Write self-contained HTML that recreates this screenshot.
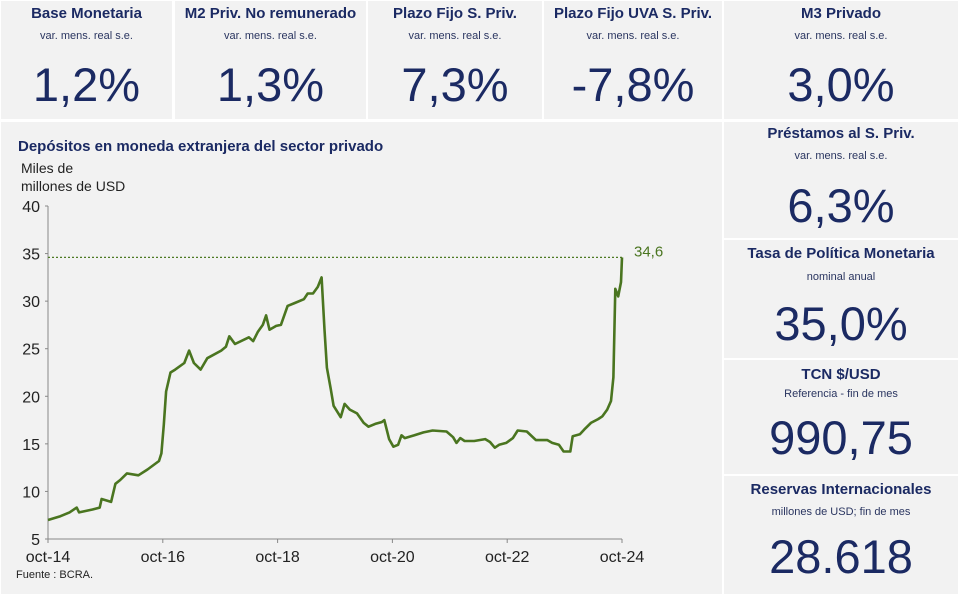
<!DOCTYPE html>
<html><head><meta charset="utf-8">
<style>
body{margin:0;width:960px;height:594px;background:#fff;position:relative;overflow:hidden;font-family:"Liberation Sans",sans-serif;color:#1b2a63}
.p{position:absolute;background:#f2f2f2}
.t{position:absolute;left:0;right:0;text-align:center;font-weight:bold;font-size:15px}
.s{position:absolute;left:0;right:0;text-align:center;font-size:11px;color:#2a3560}
.n{position:absolute;left:0;right:0;text-align:center;font-size:47px;line-height:47px}
</style></head><body>
<div class="p" style="left:1px;top:1px;width:171px;height:118px"><div class="t" style="top:4px">Base Monetaria</div><div class="s" style="top:29px">var. mens. real s.e.</div><div class="n" style="top:60px">1,2%</div></div>
<div class="p" style="left:175px;top:1px;width:191px;height:118px"><div class="t" style="top:4px">M2 Priv. No remunerado</div><div class="s" style="top:29px">var. mens. real s.e.</div><div class="n" style="top:60px">1,3%</div></div>
<div class="p" style="left:368px;top:1px;width:174px;height:118px"><div class="t" style="top:4px">Plazo Fijo S. Priv.</div><div class="s" style="top:29px">var. mens. real s.e.</div><div class="n" style="top:60px">7,3%</div></div>
<div class="p" style="left:544px;top:1px;width:178px;height:118px"><div class="t" style="top:4px">Plazo Fijo UVA S. Priv.</div><div class="s" style="top:29px">var. mens. real s.e.</div><div class="n" style="top:60px">-7,8%</div></div>
<div class="p" style="left:724px;top:1px;width:234px;height:118px"><div class="t" style="top:4px">M3 Privado</div><div class="s" style="top:29px">var. mens. real s.e.</div><div class="n" style="top:60px">3,0%</div></div>
<div class="p" style="left:724px;top:122px;width:234px;height:116px"><div class="t" style="top:3px">Préstamos al S. Priv.</div><div class="s" style="top:28px">var. mens. real s.e.</div><div class="n" style="top:60px">6,3%</div></div>
<div class="p" style="left:724px;top:240px;width:234px;height:118px"><div class="t" style="top:5px">Tasa de Política Monetaria</div><div class="s" style="top:31px">nominal anual</div><div class="n" style="top:60px">35,0%</div></div>
<div class="p" style="left:724px;top:360px;width:234px;height:114px"><div class="t" style="top:6px">TCN $/USD</div><div class="s" style="top:28px">Referencia - fin de mes</div><div class="n" style="top:54px">990,75</div></div>
<div class="p" style="left:724px;top:476px;width:234px;height:118px"><div class="t" style="top:5px">Reservas Internacionales</div><div class="s" style="top:30px">millones de USD; fin de mes</div><div class="n" style="top:57px">28.618</div></div>
<div class="p" style="left:1px;top:122px;width:721px;height:472px"></div>
<svg id="c" width="960" height="594" style="position:absolute;left:0;top:0"></svg>
<script>
const months=[0,2.6,4.5,6,6.5,9.3,10.8,11.2,13.2,14.1,15.1,16.5,18.9,20.8,23.2,23.7,24.2,24.7,25.6,26.6,28.5,29.5,30.5,31.9,33.3,36.2,37.2,37.9,39.1,42,42.9,43.9,44.9,45.6,46.3,47.7,48.7,50.1,51.6,53.5,54.3,55.4,56.4,57.2,57.8,58.3,59.1,59.7,61.2,62,63.1,64.6,66,67,68.4,69.8,70.3,71.3,72.2,73.2,73.9,74.6,76.6,78.5,80.4,83.3,84.7,85.4,86.2,87.1,89.1,91.4,92.4,93.4,94.3,95.8,97.2,98.2,100.1,102,104.4,105.4,106.8,107.8,109.2,109.7,111.2,112.1,113.5,115,115.9,116.9,117.7,118.2,118.6,119.2,119.8,120];
const values=[7.0,7.4,7.8,8.3,7.8,8.1,8.3,9.2,8.9,10.8,11.2,11.9,11.7,12.3,13.2,14,17,20.5,22.5,22.8,23.5,24.8,23.5,22.8,24,24.8,25.2,26.3,25.5,26.2,25.8,26.8,27.5,28.5,27,27.4,27.5,29.5,29.8,30.2,30.8,30.8,31.5,32.5,27,23,20.8,19,17.8,19.2,18.6,18.2,17.2,16.8,17.1,17.3,17.5,15.5,14.7,14.9,15.9,15.6,15.9,16.2,16.4,16.3,15.7,15.1,15.6,15.3,15.3,15.5,15.2,14.6,14.9,15.1,15.6,16.4,16.3,15.4,15.4,15.1,14.9,14.2,14.2,15.8,16.0,16.5,17.2,17.6,17.9,18.6,19.5,22,31.3,30.5,32,34.6];
const yTicks=[5,10,15,20,25,30,35,40];
const xTickMonths=[0,24,48,72,96,120];
const xTickLabels=["oct-14","oct-16","oct-18","oct-20","oct-22","oct-24"];
const lastValue=34.6;
const X0=48,X1=622,Y0=539,Y1=206;
const sx=m=>X0+(m-120*0)/120*(X1-X0);
const sy=v=>Y0-(v-5)/35*(Y0-Y1);
const svg=document.getElementById('c');const NS='http://www.w3.org/2000/svg';
function mk(t,a,txt){const e=document.createElementNS(NS,t);for(const k in a)e.setAttribute(k,a[k]);if(txt!==undefined)e.textContent=txt;svg.appendChild(e);return e;}
let e;
e=mk('text',{x:18,y:151,'font-size':15,'font-weight':'bold',fill:'#1b2a63'},'Depósitos en moneda extranjera del sector privado');

e=mk('text',{x:21,y:173,'font-size':14,fill:'#222'},'Miles de');

e=mk('text',{x:21,y:191,'font-size':14,fill:'#222'},'millones de USD');

e=mk('line',{x1:X0,y1:Y1,x2:X0,y2:Y0,stroke:'#888','stroke-width':1});

e=mk('line',{x1:X0,y1:Y0,x2:X1,y2:Y0,stroke:'#888','stroke-width':1});

yTicks.forEach(v=>{
 e=mk('text',{x:40,y:sy(v)+6,'font-size':16,'text-anchor':'end',fill:'#222'},String(v));
 
 e=mk('line',{x1:X0-3,y1:sy(v),x2:X0,y2:sy(v),stroke:'#888'});
 
});
xTickMonths.forEach((m,i)=>{
 e=mk('text',{x:sx(m),y:562,'font-size':16,'text-anchor':'middle',fill:'#222'},xTickLabels[i]);
 
 e=mk('line',{x1:sx(m),y1:Y0,x2:sx(m),y2:Y0+4,stroke:'#888'});
 
});
e=mk('line',{x1:X0,y1:sy(lastValue),x2:sx(120),y2:sy(lastValue),stroke:'#4e7a24','stroke-width':1.3,'stroke-dasharray':'2,2'});

e=mk('polyline',{points:months.map((m,i)=>sx(m).toFixed(1)+','+sy(values[i]).toFixed(1)).join(' '),fill:'none',stroke:'#4a7520','stroke-width':2.6,'stroke-linejoin':'round'});

e=mk('text',{x:634,y:sy(lastValue)-1,'font-size':15,fill:'#4a7520'},String(lastValue).replace('.',','));

e=mk('text',{x:16,y:578,'font-size':11,fill:'#222'},'Fuente : BCRA.');

</script>
</body></html>
